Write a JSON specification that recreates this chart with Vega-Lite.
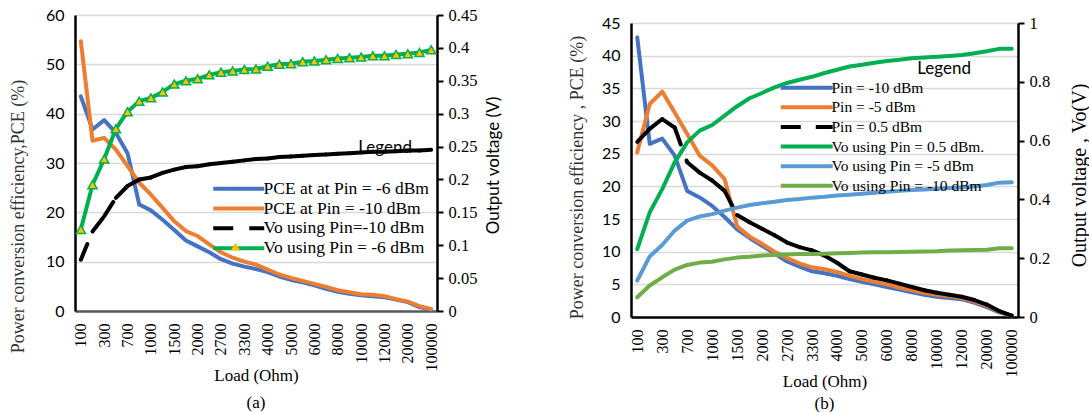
{
"$schema":"https://vega.github.io/schema/vega-lite/v6.json",
"background":"white",
"padding":{"left":9,"top":7,"right":5,"bottom":5},
"bounds":"flush",
"spacing":194,
"config":{"view":{"stroke":null},"title":{"font":"Liberation Serif","fontSize":17,"fontWeight":"normal","color":"#000"}},
"resolve":{"scale":{"color":"independent","shape":"independent","x":"independent","y":"independent"},"legend":{"color":"independent","shape":"independent"}},
"datasets":{
"a_pce6":[{"Load":"100","Value":43.5},{"Load":"200","Value":36.8},{"Load":"300","Value":38.7},{"Load":"500","Value":36.1},{"Load":"700","Value":32.0},{"Load":"800","Value":21.6},{"Load":"1000","Value":20.4},{"Load":"1200","Value":18.5},{"Load":"1500","Value":16.4},{"Load":"1800","Value":14.3},{"Load":"2000","Value":13.1},{"Load":"2200","Value":11.9},{"Load":"2700","Value":10.5},{"Load":"3000","Value":9.6},{"Load":"3300","Value":9.0},{"Load":"3600","Value":8.5},{"Load":"4000","Value":7.9},{"Load":"4700","Value":7.0},{"Load":"5000","Value":6.3},{"Load":"5600","Value":5.8},{"Load":"6000","Value":5.2},{"Load":"7000","Value":4.5},{"Load":"8000","Value":3.9},{"Load":"9000","Value":3.5},{"Load":"10000","Value":3.2},{"Load":"11000","Value":3.0},{"Load":"12000","Value":2.8},{"Load":"15000","Value":2.3},{"Load":"20000","Value":1.8},{"Load":"50000","Value":0.8},{"Load":"100000","Value":0.3}],
"a_pce10":[{"Load":"100","Value":54.7},{"Load":"200","Value":34.5},{"Load":"300","Value":35.1},{"Load":"500","Value":32.7},{"Load":"700","Value":29.4},{"Load":"800","Value":26.0},{"Load":"1000","Value":23.6},{"Load":"1200","Value":20.9},{"Load":"1500","Value":18.2},{"Load":"1800","Value":16.2},{"Load":"2000","Value":15.2},{"Load":"2200","Value":13.5},{"Load":"2700","Value":11.9},{"Load":"3000","Value":10.8},{"Load":"3300","Value":10.0},{"Load":"3600","Value":9.4},{"Load":"4000","Value":8.4},{"Load":"4700","Value":7.4},{"Load":"5000","Value":6.7},{"Load":"5600","Value":6.1},{"Load":"6000","Value":5.5},{"Load":"7000","Value":4.9},{"Load":"8000","Value":4.2},{"Load":"9000","Value":3.8},{"Load":"10000","Value":3.4},{"Load":"11000","Value":3.3},{"Load":"12000","Value":3.0},{"Load":"15000","Value":2.4},{"Load":"20000","Value":1.9},{"Load":"50000","Value":1.0},{"Load":"100000","Value":0.4}],
"a_vo10":[{"Load":"100","Value":0.078},{"Load":"200","Value":0.121},{"Load":"300","Value":0.144},{"Load":"500","Value":0.172},{"Load":"700","Value":0.190},{"Load":"800","Value":0.200},{"Load":"1000","Value":0.203},{"Load":"1200","Value":0.210},{"Load":"1500","Value":0.215},{"Load":"1800","Value":0.219},{"Load":"2000","Value":0.220},{"Load":"2200","Value":0.223},{"Load":"2700","Value":0.225},{"Load":"3000","Value":0.227},{"Load":"3300","Value":0.229},{"Load":"3600","Value":0.231},{"Load":"4000","Value":0.232},{"Load":"4700","Value":0.234},{"Load":"5000","Value":0.235},{"Load":"5600","Value":0.236},{"Load":"6000","Value":0.237},{"Load":"7000","Value":0.238},{"Load":"8000","Value":0.239},{"Load":"9000","Value":0.240},{"Load":"10000","Value":0.241},{"Load":"11000","Value":0.242},{"Load":"12000","Value":0.242},{"Load":"15000","Value":0.243},{"Load":"20000","Value":0.244},{"Load":"50000","Value":0.244},{"Load":"100000","Value":0.245}],
"a_vo6":[{"Load":"100","Value":0.124},{"Load":"200","Value":0.192},{"Load":"300","Value":0.231},{"Load":"500","Value":0.277},{"Load":"700","Value":0.303},{"Load":"800","Value":0.319},{"Load":"1000","Value":0.324},{"Load":"1200","Value":0.333},{"Load":"1500","Value":0.345},{"Load":"1800","Value":0.350},{"Load":"2000","Value":0.353},{"Load":"2200","Value":0.359},{"Load":"2700","Value":0.363},{"Load":"3000","Value":0.365},{"Load":"3300","Value":0.367},{"Load":"3600","Value":0.368},{"Load":"4000","Value":0.372},{"Load":"4700","Value":0.375},{"Load":"5000","Value":0.376},{"Load":"5600","Value":0.379},{"Load":"6000","Value":0.380},{"Load":"7000","Value":0.382},{"Load":"8000","Value":0.384},{"Load":"9000","Value":0.385},{"Load":"10000","Value":0.386},{"Load":"11000","Value":0.388},{"Load":"12000","Value":0.388},{"Load":"15000","Value":0.390},{"Load":"20000","Value":0.391},{"Load":"50000","Value":0.393},{"Load":"100000","Value":0.397}],
"b_pce10":[{"Load":"100","Value":42.8},{"Load":"200","Value":26.5},{"Load":"300","Value":27.3},{"Load":"500","Value":24.7},{"Load":"700","Value":19.3},{"Load":"800","Value":18.3},{"Load":"1000","Value":17.0},{"Load":"1200","Value":15.3},{"Load":"1500","Value":13.4},{"Load":"1800","Value":12.1},{"Load":"2000","Value":10.9},{"Load":"2200","Value":9.7},{"Load":"2700","Value":8.5},{"Load":"3000","Value":7.7},{"Load":"3300","Value":7.0},{"Load":"3600","Value":6.7},{"Load":"4000","Value":6.3},{"Load":"4700","Value":5.8},{"Load":"5000","Value":5.4},{"Load":"5600","Value":5.0},{"Load":"6000","Value":4.6},{"Load":"7000","Value":4.2},{"Load":"8000","Value":3.8},{"Load":"9000","Value":3.4},{"Load":"10000","Value":3.1},{"Load":"11000","Value":2.9},{"Load":"12000","Value":2.7},{"Load":"15000","Value":2.2},{"Load":"20000","Value":1.5},{"Load":"50000","Value":0.7},{"Load":"100000","Value":0.2}],
"b_pce5":[{"Load":"100","Value":25.2},{"Load":"200","Value":32.6},{"Load":"300","Value":34.5},{"Load":"500","Value":31.3},{"Load":"700","Value":28.0},{"Load":"800","Value":24.7},{"Load":"1000","Value":23.2},{"Load":"1200","Value":21.1},{"Load":"1500","Value":13.9},{"Load":"1800","Value":12.3},{"Load":"2000","Value":11.2},{"Load":"2200","Value":10.0},{"Load":"2700","Value":9.0},{"Load":"3000","Value":8.2},{"Load":"3300","Value":7.6},{"Load":"3600","Value":7.3},{"Load":"4000","Value":6.9},{"Load":"4700","Value":6.3},{"Load":"5000","Value":5.8},{"Load":"5600","Value":5.4},{"Load":"6000","Value":5.0},{"Load":"7000","Value":4.5},{"Load":"8000","Value":4.1},{"Load":"9000","Value":3.7},{"Load":"10000","Value":3.4},{"Load":"11000","Value":3.2},{"Load":"12000","Value":2.9},{"Load":"15000","Value":2.4},{"Load":"20000","Value":1.7},{"Load":"50000","Value":0.8},{"Load":"100000","Value":0.2}],
"b_pce05":[{"Load":"100","Value":26.8},{"Load":"200","Value":28.8},{"Load":"300","Value":30.3},{"Load":"500","Value":29.0},{"Load":"700","Value":23.7},{"Load":"800","Value":22.1},{"Load":"1000","Value":20.9},{"Load":"1200","Value":19.3},{"Load":"1500","Value":15.6},{"Load":"1800","Value":14.5},{"Load":"2000","Value":13.5},{"Load":"2200","Value":12.5},{"Load":"2700","Value":11.4},{"Load":"3000","Value":10.7},{"Load":"3300","Value":10.2},{"Load":"3600","Value":9.4},{"Load":"4000","Value":8.3},{"Load":"4700","Value":7.0},{"Load":"5000","Value":6.5},{"Load":"5600","Value":6.0},{"Load":"6000","Value":5.6},{"Load":"7000","Value":5.1},{"Load":"8000","Value":4.6},{"Load":"9000","Value":4.1},{"Load":"10000","Value":3.7},{"Load":"11000","Value":3.4},{"Load":"12000","Value":3.1},{"Load":"15000","Value":2.6},{"Load":"20000","Value":1.9},{"Load":"50000","Value":0.9},{"Load":"100000","Value":0.2}],
"b_vo05":[{"Load":"100","Value":0.231},{"Load":"200","Value":0.356},{"Load":"300","Value":0.435},{"Load":"500","Value":0.526},{"Load":"700","Value":0.594},{"Load":"800","Value":0.634},{"Load":"1000","Value":0.653},{"Load":"1200","Value":0.685},{"Load":"1500","Value":0.717},{"Load":"1800","Value":0.744},{"Load":"2000","Value":0.762},{"Load":"2200","Value":0.781},{"Load":"2700","Value":0.796},{"Load":"3000","Value":0.807},{"Load":"3300","Value":0.817},{"Load":"3600","Value":0.830},{"Load":"4000","Value":0.841},{"Load":"4700","Value":0.852},{"Load":"5000","Value":0.858},{"Load":"5600","Value":0.865},{"Load":"6000","Value":0.871},{"Load":"7000","Value":0.875},{"Load":"8000","Value":0.880},{"Load":"9000","Value":0.883},{"Load":"10000","Value":0.885},{"Load":"11000","Value":0.888},{"Load":"12000","Value":0.891},{"Load":"15000","Value":0.897},{"Load":"20000","Value":0.904},{"Load":"50000","Value":0.912},{"Load":"100000","Value":0.912}],
"b_vo5":[{"Load":"100","Value":0.124},{"Load":"200","Value":0.206},{"Load":"300","Value":0.245},{"Load":"500","Value":0.294},{"Load":"700","Value":0.328},{"Load":"800","Value":0.342},{"Load":"1000","Value":0.350},{"Load":"1200","Value":0.362},{"Load":"1500","Value":0.372},{"Load":"1800","Value":0.381},{"Load":"2000","Value":0.387},{"Load":"2200","Value":0.392},{"Load":"2700","Value":0.398},{"Load":"3000","Value":0.401},{"Load":"3300","Value":0.406},{"Load":"3600","Value":0.409},{"Load":"4000","Value":0.413},{"Load":"4700","Value":0.416},{"Load":"5000","Value":0.419},{"Load":"5600","Value":0.423},{"Load":"6000","Value":0.426},{"Load":"7000","Value":0.429},{"Load":"8000","Value":0.432},{"Load":"9000","Value":0.434},{"Load":"10000","Value":0.436},{"Load":"11000","Value":0.439},{"Load":"12000","Value":0.441},{"Load":"15000","Value":0.444},{"Load":"20000","Value":0.449},{"Load":"50000","Value":0.457},{"Load":"100000","Value":0.458}],
"b_vo10":[{"Load":"100","Value":0.067},{"Load":"200","Value":0.107},{"Load":"300","Value":0.135},{"Load":"500","Value":0.161},{"Load":"700","Value":0.177},{"Load":"800","Value":0.185},{"Load":"1000","Value":0.188},{"Load":"1200","Value":0.196},{"Load":"1500","Value":0.202},{"Load":"1800","Value":0.205},{"Load":"2000","Value":0.209},{"Load":"2200","Value":0.211},{"Load":"2700","Value":0.213},{"Load":"3000","Value":0.214},{"Load":"3300","Value":0.214},{"Load":"3600","Value":0.215},{"Load":"4000","Value":0.217},{"Load":"4700","Value":0.218},{"Load":"5000","Value":0.219},{"Load":"5600","Value":0.220},{"Load":"6000","Value":0.220},{"Load":"7000","Value":0.221},{"Load":"8000","Value":0.222},{"Load":"9000","Value":0.223},{"Load":"10000","Value":0.224},{"Load":"11000","Value":0.226},{"Load":"12000","Value":0.227},{"Load":"15000","Value":0.228},{"Load":"20000","Value":0.229},{"Load":"50000","Value":0.234},{"Load":"100000","Value":0.234}]
},
"hconcat":[
{
"width":362,"height":296,
"title":{"text":"(a)","orient":"bottom","anchor":"middle","offset":12},
"resolve":{"scale":{"y":"independent"}},
"encoding":{"x":{"field":"Load","type":"ordinal","scale":{"type":"point","padding":0.5,"domain":["100","200","300","500","700","800","1000","1200","1500","1800","2000","2200","2700","3000","3300","3600","4000","4700","5000","5600","6000","7000","8000","9000","10000","11000","12000","15000","20000","50000","100000"]},"axis":{"values":["100","300","700","1000","1500","2000","2700","3300","4000","5000","6000","8000","10000","12000","20000","100000"],"labelAngle":-90,"labelFont":"Liberation Serif","labelFontSize":16,"labelPadding":12,"labelColor":"#000","ticks":false,"grid":false,"domainColor":"#595959","domainWidth":2.5,"title":"Load (Ohm)","titleFont":"Liberation Serif","titleFontSize":17,"titleFontWeight":"normal","titleColor":"#000","titleY":64,"titleBaseline":"middle"}}},
"layer":[
{"encoding":{"y":{"field":"Value","type":"quantitative","scale":{"domain":[0,60],"nice":false},"axis":{"orient":"left","values":[0,10,20,30,40,50,60],"grid":true,"gridColor":"#d9d9d9","gridWidth":1.5,"domainColor":"#000","domainWidth":2.5,"ticks":false,"labelFont":"Lato","labelFontSize":16,"labelPadding":11,"labelColor":"#000","title":"Power conversion efficiency,PCE (%)","titleFont":"Liberation Serif","titleFontSize":18,"titleFontWeight":"normal","titleColor":"#333","titleAngle":-90,"titleX":-57,"titleY":201,"titleAlign":"center","titleBaseline":"middle"}}},
 "layer":[
  {"data":{"name":"a_pce6"},"mark":{"type":"line","strokeWidth":4,"strokeJoin":"round","strokeCap":"round"},
   "encoding":{"color":{"datum":"PCE at at Pin = -6 dBm","type":"nominal","scale":{"domain":["PCE at at Pin = -6 dBm","PCE at Pin = -10 dBm","Vo using Pin=-10 dBm","Vo using Pin = -6 dBm"],"range":["#4472C4","#ED7D31","#000000","#00B050"]},
    "legend":{"orient":"none","legendX":155,"legendY":125,"title":"Legend","titleFont":"Lato","titleFontSize":17,"titleFontWeight":"normal","titleColor":"#000","titleAnchor":"end","titlePadding":23,"padding":0,"symbolType":"M-5,0H5","symbolSize":104,"symbolStrokeWidth":4,"labelFont":"Liberation Serif","labelFontSize":17.5,"labelColor":"#000","labelOffset":16,"rowPadding":0.8,"labelLimit":300,
     "encode":{"symbols":{"update":{"strokeDash":{"signal":"datum.value === 'Vo using Pin=-10 dBm' ? [20,16] : [1,0]"}}},"title":{"update":{"dx":{"value":-17}}}}}}}},
  {"data":{"name":"a_pce10"},"mark":{"type":"line","strokeWidth":4,"strokeJoin":"round","strokeCap":"round"},
   "encoding":{"color":{"datum":"PCE at Pin = -10 dBm","type":"nominal","scale":{"domain":["PCE at at Pin = -6 dBm","PCE at Pin = -10 dBm","Vo using Pin=-10 dBm","Vo using Pin = -6 dBm"],"range":["#4472C4","#ED7D31","#000000","#00B050"]}}}}
 ]},
{"encoding":{"y":{"field":"Value","type":"quantitative","scale":{"domain":[0,0.45],"nice":false},"axis":{"orient":"right","values":[0,0.05,0.1,0.15,0.2,0.25,0.3,0.35,0.4,0.45],"format":"~g","grid":false,"domainColor":"#000","domainWidth":2.5,"ticks":true,"tickColor":"#000","tickWidth":2,"tickSize":6,"labelFont":"Liberation Serif","labelFontSize":16.5,"labelPadding":5,"labelColor":"#000","title":"Output voltage (V)","titleFont":"Lato","titleFontSize":17,"titleFontWeight":"normal","titleColor":"#000","titleAngle":-90,"titleX":56,"titleY":150,"titleAlign":"center","titleBaseline":"middle"}}},
 "layer":[
  {"data":{"name":"a_vo10"},"transform":[{"window":[{"op":"lead","field":"Load","as":"Load2"},{"op":"lead","field":"Value","as":"Value2"}]},{"filter":"datum.Load2 != null"}],
   "mark":{"type":"rule","strokeWidth":4,"strokeCap":"round","strokeDash":[17,19]},
   "encoding":{"x2":{"field":"Load2"},"y2":{"field":"Value2"},"color":{"datum":"Vo using Pin=-10 dBm","type":"nominal","scale":{"domain":["PCE at at Pin = -6 dBm","PCE at Pin = -10 dBm","Vo using Pin=-10 dBm","Vo using Pin = -6 dBm"],"range":["#4472C4","#ED7D31","#000000","#00B050"]}}}},
  {"data":{"name":"a_vo6"},"mark":{"type":"line","strokeWidth":4,"strokeJoin":"round","strokeCap":"round"},
   "encoding":{"color":{"datum":"Vo using Pin = -6 dBm","type":"nominal","scale":{"domain":["PCE at at Pin = -6 dBm","PCE at Pin = -10 dBm","Vo using Pin=-10 dBm","Vo using Pin = -6 dBm"],"range":["#4472C4","#ED7D31","#000000","#00B050"]}}}},
  {"data":{"name":"a_vo6"},"mark":{"type":"point","filled":true,"fill":"#FFC000","stroke":"#00B050","strokeWidth":1.5,"size":85,"opacity":1},
   "encoding":{"shape":{"datum":"Vo using Pin = -6 dBm","type":"nominal","scale":{"range":["triangle-up"]},
    "legend":{"orient":"none","legendX":155,"legendY":226,"title":null,"padding":0,"labelExpr":"''","labelFontSize":1,"symbolSize":85,"symbolStrokeWidth":1.5,"symbolFillColor":"#FFC000","symbolStrokeColor":"#00B050","symbolOpacity":1,
     "encode":{"symbols":{"update":{"fill":{"value":"#FFC000"},"stroke":{"value":"#00B050"},"opacity":{"value":1}}}}}}}}
 ]}
]
},
{
"width":387,"height":302,
"title":{"text":"(b)","orient":"bottom","anchor":"middle","offset":7},
"resolve":{"scale":{"y":"independent"}},
"encoding":{"x":{"field":"Load","type":"ordinal","scale":{"type":"point","padding":0.5,"domain":["100","200","300","500","700","800","1000","1200","1500","1800","2000","2200","2700","3000","3300","3600","4000","4700","5000","5600","6000","7000","8000","9000","10000","11000","12000","15000","20000","50000","100000"]},"axis":{"values":["100","300","700","1000","1500","2000","2700","3300","4000","5000","6000","8000","10000","12000","20000","100000"],"labelAngle":-90,"labelFont":"Liberation Serif","labelFontSize":16,"labelPadding":12,"labelColor":"#000","ticks":false,"grid":false,"domainColor":"#000","domainWidth":2.5,"title":"Load (Ohm)","titleFont":"Liberation Serif","titleFontSize":17,"titleFontWeight":"normal","titleColor":"#000","titleY":64,"titleBaseline":"middle"}}},
"layer":[
{"encoding":{"y":{"field":"Value","type":"quantitative","scale":{"domain":[0,45],"nice":false,"range":[302,8]},"axis":{"orient":"left","values":[0,5,10,15,20,25,30,35,40,45],"grid":true,"gridColor":"#d9d9d9","gridWidth":1.5,"domainColor":"#000","domainWidth":2.5,"ticks":false,"labelFont":"Lato","labelFontSize":16,"labelPadding":11,"labelColor":"#000","title":"Power conversion efficiency , PCE (%)","titleFont":"Liberation Serif","titleFontSize":18,"titleFontWeight":"normal","titleColor":"#333","titleAngle":-90,"titleX":-54,"titleY":162,"titleAlign":"center","titleBaseline":"middle"}}},
 "layer":[
  {"data":{"name":"b_pce10"},"mark":{"type":"line","strokeWidth":4,"strokeJoin":"round","strokeCap":"round"},
   "encoding":{"color":{"datum":"Pin = -10 dBm","type":"nominal","scale":{"domain":["Pin = -10 dBm","Pin = -5 dBm","Pin = 0.5 dBm","Vo using Pin = 0.5 dBm.","Vo using Pin = -5 dBm","Vo using Pin = -10 dBm"],"range":["#4472C4","#ED7D31","#000000","#00B050","#5B9BD5","#70AD47"]},
    "legend":{"orient":"none","legendX":168,"legendY":46,"title":"Legend","titleFont":"Lato","titleFontSize":17,"titleFontWeight":"normal","titleColor":"#000","titleAnchor":"end","titlePadding":2,"padding":0,"symbolType":"M-5,0H5","symbolSize":108,"symbolStrokeWidth":4,"labelFont":"Liberation Serif","labelFontSize":15.5,"labelColor":"#000","labelOffset":17,"rowPadding":1.6,"labelLimit":300,
     "encode":{"symbols":{"update":{"strokeDash":{"signal":"datum.value === 'Pin = 0.5 dBm' ? [20,15] : [1,0]"}}},"title":{"update":{"dx":{"value":-13}}}}}}}},
  {"data":{"name":"b_pce5"},"mark":{"type":"line","strokeWidth":4,"strokeJoin":"round","strokeCap":"round"},
   "encoding":{"color":{"datum":"Pin = -5 dBm","type":"nominal","scale":{"domain":["Pin = -10 dBm","Pin = -5 dBm","Pin = 0.5 dBm","Vo using Pin = 0.5 dBm.","Vo using Pin = -5 dBm","Vo using Pin = -10 dBm"],"range":["#4472C4","#ED7D31","#000000","#00B050","#5B9BD5","#70AD47"]}}}},
  {"data":{"name":"b_pce05"},"transform":[{"window":[{"op":"lead","field":"Load","as":"Load2"},{"op":"lead","field":"Value","as":"Value2"}]},{"filter":"datum.Load2 != null"}],
   "mark":{"type":"rule","strokeWidth":4,"strokeCap":"round","strokeDash":[18,17]},
   "encoding":{"x2":{"field":"Load2"},"y2":{"field":"Value2"},"color":{"datum":"Pin = 0.5 dBm","type":"nominal","scale":{"domain":["Pin = -10 dBm","Pin = -5 dBm","Pin = 0.5 dBm","Vo using Pin = 0.5 dBm.","Vo using Pin = -5 dBm","Vo using Pin = -10 dBm"],"range":["#4472C4","#ED7D31","#000000","#00B050","#5B9BD5","#70AD47"]}}}}
 ]},
{"encoding":{"y":{"field":"Value","type":"quantitative","scale":{"domain":[0,1],"nice":false,"range":[302,8]},"axis":{"orient":"right","values":[0,0.2,0.4,0.6,0.8,1],"format":"~g","grid":false,"domainColor":"#000","domainWidth":2.5,"ticks":true,"tickColor":"#000","tickWidth":2,"tickSize":6,"labelFont":"Liberation Serif","labelFontSize":16.5,"labelPadding":5,"labelColor":"#000","title":"Output voltage , Vo(V)","titleFont":"Liberation Serif","titleFontSize":20,"titleFontWeight":"normal","titleColor":"#000","titleAngle":-90,"titleX":61,"titleY":160,"titleAlign":"center","titleBaseline":"middle"}}},
 "layer":[
  {"data":{"name":"b_vo05"},"mark":{"type":"line","strokeWidth":4,"strokeJoin":"round","strokeCap":"round"},
   "encoding":{"color":{"datum":"Vo using Pin = 0.5 dBm.","type":"nominal","scale":{"domain":["Pin = -10 dBm","Pin = -5 dBm","Pin = 0.5 dBm","Vo using Pin = 0.5 dBm.","Vo using Pin = -5 dBm","Vo using Pin = -10 dBm"],"range":["#4472C4","#ED7D31","#000000","#00B050","#5B9BD5","#70AD47"]}}}},
  {"data":{"name":"b_vo5"},"mark":{"type":"line","strokeWidth":4,"strokeJoin":"round","strokeCap":"round"},
   "encoding":{"color":{"datum":"Vo using Pin = -5 dBm","type":"nominal","scale":{"domain":["Pin = -10 dBm","Pin = -5 dBm","Pin = 0.5 dBm","Vo using Pin = 0.5 dBm.","Vo using Pin = -5 dBm","Vo using Pin = -10 dBm"],"range":["#4472C4","#ED7D31","#000000","#00B050","#5B9BD5","#70AD47"]}}}},
  {"data":{"name":"b_vo10"},"mark":{"type":"line","strokeWidth":4,"strokeJoin":"round","strokeCap":"round"},
   "encoding":{"color":{"datum":"Vo using Pin = -10 dBm","type":"nominal","scale":{"domain":["Pin = -10 dBm","Pin = -5 dBm","Pin = 0.5 dBm","Vo using Pin = 0.5 dBm.","Vo using Pin = -5 dBm","Vo using Pin = -10 dBm"],"range":["#4472C4","#ED7D31","#000000","#00B050","#5B9BD5","#70AD47"]}}}}
 ]}
]
}
]
}
